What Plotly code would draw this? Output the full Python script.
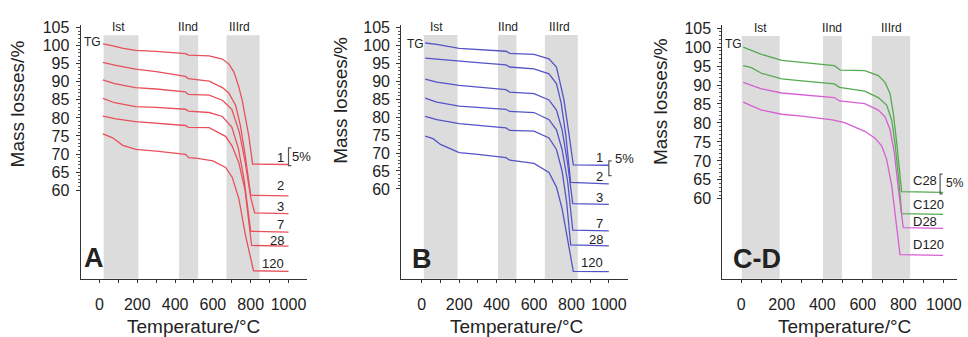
import plotly.graph_objects as go

# ---------------- data ----------------
# Panel A (red)
A_labels = ["1", "2", "3", "7", "28", "120"]
A_x = [
    [18, 60, 120, 190, 300, 455, 470, 580, 650, 685, 712, 737, 755, 772, 790, 810, 1000],
    [18, 80, 190, 300, 455, 470, 580, 650, 684, 720, 745, 770, 800, 1000],
    [18, 80, 190, 300, 455, 470, 580, 650, 700, 740, 770, 800, 821, 1000],
    [18, 80, 190, 300, 455, 470, 580, 650, 700, 735, 765, 800, 1000],
    [18, 80, 190, 300, 455, 470, 580, 667, 702, 737, 770, 805, 1000],
    [18, 70, 123, 193, 300, 456, 472, 520, 600, 667, 702, 737, 772, 815, 1000],
]
A_y = [
    [100.5, 100.1, 99.3, 98.7, 98.4, 97.8, 97.4, 97.2, 96.3, 94.9, 92.6, 88.6, 84.9, 80.4, 75.0, 67.2, 67.1],
    [95.4, 94.6, 93.5, 92.8, 91.5, 90.9, 90.2, 88.4, 86.9, 83.5, 78.0, 70.0, 58.6, 58.4],
    [90.5, 89.5, 88.4, 88.0, 87.2, 86.5, 86.3, 84.9, 82.4, 76.0, 68.0, 58.0, 53.7, 53.5],
    [85.4, 84.2, 83.1, 82.9, 82.4, 81.9, 81.5, 80.4, 77.5, 71.5, 63.0, 48.6, 48.4],
    [80.5, 79.8, 79.0, 78.6, 77.9, 77.4, 77.3, 74.9, 72.2, 67.6, 60.0, 44.7, 44.5],
    [75.6, 74.5, 72.4, 71.3, 70.8, 69.9, 69.0, 68.8, 68.1, 66.3, 63.6, 57.7, 47.6, 37.7, 37.5],
]
# Panel B (blue)
B_labels = ["1", "2", "3", "7", "28", "120"]
B_x = [
    [18, 80, 200, 300, 450, 470, 600, 680, 720, 742, 760, 785, 810, 1000],
    [18, 100, 200, 300, 450, 470, 600, 680, 720, 745, 770, 796, 1000],
    [18, 80, 200, 300, 450, 470, 600, 680, 720, 750, 780, 807, 1000],
    [18, 80, 200, 300, 450, 470, 600, 680, 720, 750, 780, 807, 1000],
    [18, 80, 200, 300, 450, 470, 600, 680, 720, 750, 775, 796, 1000],
    [18, 60, 100, 200, 300, 450, 470, 600, 680, 720, 750, 780, 810, 1000],
]
B_y = [
    [100.7, 100.3, 99.2, 98.9, 98.4, 97.8, 97.5, 96.3, 94.0, 89.0, 84.8, 76.0, 66.7, 66.6],
    [96.5, 96.1, 95.6, 95.2, 94.6, 94.0, 93.5, 92.1, 89.4, 84.0, 75.0, 61.8, 61.4],
    [90.6, 89.8, 88.9, 88.5, 87.7, 87.0, 86.6, 84.8, 82.0, 76.5, 67.0, 55.9, 55.7],
    [85.3, 84.2, 83.1, 82.8, 82.2, 81.6, 81.3, 79.3, 76.5, 71.0, 62.0, 48.5, 48.3],
    [80.2, 79.3, 78.2, 77.8, 77.0, 76.3, 76.1, 74.2, 71.0, 65.0, 56.0, 44.4, 44.1],
    [74.7, 74.0, 72.4, 70.1, 69.6, 68.7, 68.0, 67.1, 64.6, 60.5, 54.5, 46.0, 37.0, 36.9],
]
# Panel C-D (green C, magenta D)
C_labels = ["C28", "C120", "D28", "D120"]
C_colors_key = ["C", "C", "D", "D"]
C_x = [
    [10, 100, 200, 300, 460, 490, 610, 677, 710, 735, 751, 768, 784, 792, 997],
    [10, 50, 100, 200, 300, 460, 485, 610, 677, 718, 743, 759, 776, 792, 997],
    [10, 100, 200, 300, 460, 485, 610, 677, 710, 735, 756, 776, 800, 997],
    [10, 100, 200, 300, 450, 510, 610, 661, 694, 718, 743, 768, 784, 997],
]
C_y = [
    [100.0, 98.1, 96.5, 96.0, 95.1, 93.9, 93.8, 92.5, 90.7, 87.7, 82.5, 74.7, 66.1, 61.9, 61.7],
    [95.1, 94.6, 93.1, 91.6, 91.1, 90.3, 89.4, 88.4, 86.7, 84.7, 80.8, 74.7, 66.1, 56.1, 55.9],
    [90.7, 89.0, 87.9, 87.5, 86.7, 85.8, 85.1, 83.4, 81.6, 78.2, 72.1, 62.6, 52.4, 52.2],
    [85.5, 83.4, 82.3, 81.8, 80.8, 80.1, 77.8, 76.0, 73.9, 70.4, 63.5, 52.2, 45.3, 45.1],
]

# decomposition stages (°C) per panel
stage_names = ["Ist", "IInd", "IIIrd"]
A_bands = [(22, 206), (421, 522), (672, 847)]
B_bands = [(11, 191), (407, 506), (658, 834)]
C_bands = [(3, 190), (404, 497), (645, 834)]

# ---------------- styling / positions ----------------
FONT = "Liberation Sans, Arial, Helvetica, sans-serif"
INK = "#222222"
RED = "#e8505a"
BLUE = "#5454c8"
GREEN = "#55aa50"
MAGENTA = "#d65fd2"
BAND = "#dcdcdc"

W, H = 968, 337

def px(x):
    return x / W

def py(y):
    return 1 - y / H

panels = [
    dict(key="", dom_x=(81, 309), xr=(-100, 1100), dom_y=(20, 278), yr=(35.45, 105.8)),
    dict(key="2", dom_x=(403.3, 630.8), xr=(-110, 1100), dom_y=(20, 278), yr=(34.9, 105.8)),
    dict(key="3", dom_x=(726.1, 961.9), xr=(-93, 1065), dom_y=(20, 278), yr=(38.9, 105.9)),
]

fig = go.Figure()
shapes = []
annotations = []

def add_curve(k, xs, ys, color):
    fig.add_trace(go.Scatter(
        x=xs, y=ys, mode="lines", line=dict(color=color, width=1.3),
        xaxis="x" + k, yaxis="y" + k, showlegend=False, hoverinfo="skip"))

def add_text(k, x, y, text, size=13, xanchor="center", bold=False):
    annotations.append(dict(
        x=x, y=y, xref="x" + k, yref="y" + k, text=("<b>%s</b>" % text) if bold else text,
        showarrow=False, xanchor=xanchor, yanchor="middle",
        font=dict(family=FONT, size=size, color=INK)))

def add_bands(k, bands, ybot):
    for (a, b) in bands:
        shapes.append(dict(type="rect", xref="x" + k, yref="y" + k, x0=a, x1=b,
                           y0=ybot, y1=102.9, fillcolor=BAND, line=dict(width=0),
                           layer="below"))

def add_bracket(k, x, y0, y1, w):
    fig.add_trace(go.Scatter(
        x=[x + w, x, x, x + w], y=[y0, y0, y1, y1], mode="lines",
        line=dict(color="#555555", width=1.2), xaxis="x" + k, yaxis="y" + k,
        showlegend=False, hoverinfo="skip"))

# Panel A
k = ""
add_bands(k, A_bands, panels[0]["yr"][0])
for xs, ys in zip(A_x, A_y):
    add_curve(k, xs, ys, RED)
A_label_y = [69.0, 61.4, 55.6, 50.5, 46.0, 39.6]
for lab, ly in zip(A_labels, A_label_y):
    add_text(k, 985, ly, lab, size=13, xanchor="right")
add_bracket(k, 1000, 71.7, 66.8, 15)
add_text(k, 1010, 69.4, "5%", size=13, xanchor="left")
add_text(k, -90, 100.9, "TG", size=12, xanchor="left")
for name, cx in zip(stage_names, [103, 470, 740]):
    add_text(k, cx, 105.1, name, size=12)
add_text(k, -92, 41.2, "A", size=27, xanchor="left", bold=True)

# Panel B
k = "2"
add_bands(k, B_bands, panels[1]["yr"][0])
for xs, ys in zip(B_x, B_y):
    add_curve(k, xs, ys, BLUE)
B_label_y = [68.8, 63.5, 57.5, 50.4, 46.0, 39.6]
for lab, ly in zip(B_labels, B_label_y):
    add_text(k, 982, ly, lab, size=13, xanchor="right")
add_bracket(k, 1000, 67.8, 63.7, 15)
add_text(k, 1022, 68.6, "5%", size=13, xanchor="left")
add_text(k, -92, 100.4, "TG", size=12, xanchor="left")
for name, cx in zip(stage_names, [81, 462, 736]):
    add_text(k, cx, 105.2, name, size=12)
add_text(k, -64, 40.5, "B", size=27, xanchor="left", bold=True)

# Panel C-D
k = "3"
add_bands(k, C_bands, panels[2]["yr"][0])
for xs, ys, ck in zip(C_x, C_y, C_colors_key):
    add_curve(k, xs, ys, GREEN if ck == "C" else MAGENTA)
C_label_y = [64.8, 58.6, 53.9, 48.0]
for lab, ly in zip(C_labels, C_label_y):
    add_text(k, 839, ly, lab, size=13, xanchor="left")
add_bracket(k, 982, 66.5, 61.3, 12)
add_text(k, 999, 64.1, "5%", size=12, xanchor="left")
add_text(k, -88, 100.7, "TG", size=12, xanchor="left")
for name, cx in zip(stage_names, [93, 450, 741]):
    add_text(k, cx, 105.0, name, size=12)
add_text(k, -49, 44.1, "C-D", size=27, xanchor="left", bold=True)

# axis titles
for cxp, cyp in [(18, 100), (342, 97), (664, 98)]:
    annotations.append(dict(x=px(cxp), y=py(cyp), xref="paper", yref="paper",
                            text="Mass losses/%", textangle=-90, showarrow=False,
                            xanchor="center", yanchor="middle",
                            font=dict(family=FONT, size=19, color=INK)))
for cxp in [195, 519, 849]:
    annotations.append(dict(x=px(cxp), y=py(326), xref="paper", yref="paper",
                            text="Temperature/°C", showarrow=False,
                            xanchor="center", yanchor="middle",
                            font=dict(family=FONT, size=19, color=INK)))

layout = dict(
    width=W, height=H, margin=dict(l=0, r=0, t=0, b=0),
    paper_bgcolor="white", plot_bgcolor="white",
    shapes=shapes, annotations=annotations, showlegend=False,
)
x_major = [0, 200, 400, 600, 800, 1000]
x_minor = [100, 300, 500, 700, 900]
y_major = [60, 65, 70, 75, 80, 85, 90, 95, 100, 105]
y_minor = list(range(60, 106))
for p in panels:
    k = p["key"]
    layout["xaxis" + k] = dict(
        domain=[px(p["dom_x"][0]), px(p["dom_x"][1])], range=list(p["xr"]),
        anchor="y" + k, showgrid=False, zeroline=False, showline=True,
        linecolor="#333333", linewidth=1, ticks="outside", ticklen=3,
        tickcolor="#333333", tickmode="array", tickvals=x_major,
        ticktext=[str(v) for v in x_major], ticklabelstandoff=8,
        tickfont=dict(family=FONT, size=16, color=INK),
        minor=dict(tickmode="array", tickvals=x_minor, ticks="outside", ticklen=3,
                   tickcolor="#333333", showgrid=False),
        fixedrange=True)
    layout["yaxis" + k] = dict(
        domain=[py(p["dom_y"][1]), py(p["dom_y"][0])], range=list(p["yr"]),
        anchor="x" + k, showgrid=False, zeroline=False, showline=True,
        linecolor="#333333", linewidth=1, ticks="outside", ticklen=4,
        tickcolor="#333333", tickmode="array", tickvals=y_major,
        ticktext=[str(v) for v in y_major], ticklabelstandoff=3,
        tickfont=dict(family=FONT, size=16, color=INK),
        minor=dict(tickmode="array", tickvals=y_minor, ticks="outside", ticklen=2,
                   tickcolor="#555555", showgrid=False),
        fixedrange=True)

fig.update_layout(**layout)
fig.write_html("out.html")
